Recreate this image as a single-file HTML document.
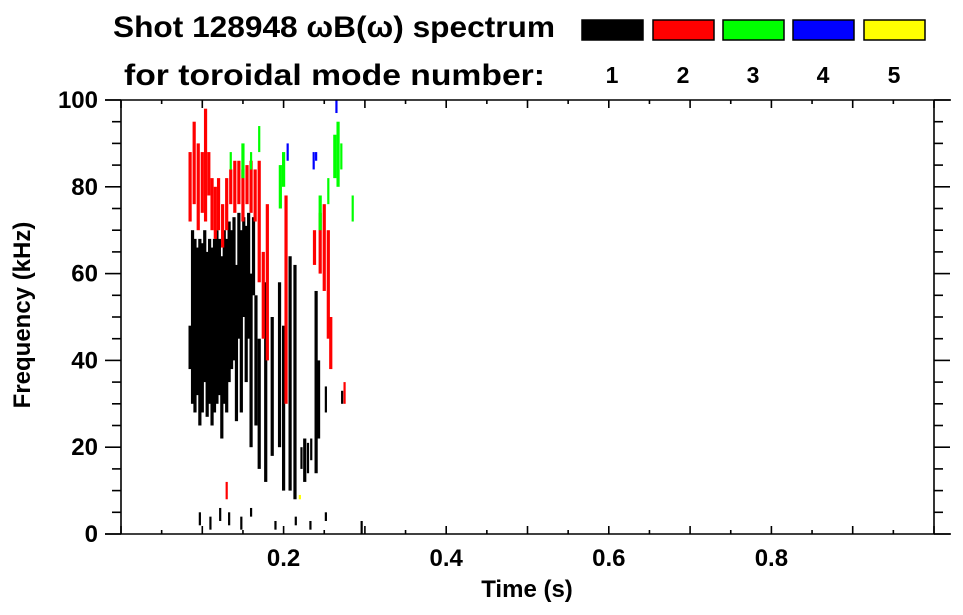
<!DOCTYPE html>
<html><head><meta charset="utf-8"><style>
html,body{margin:0;padding:0;background:#fff}
svg{display:block}
text{font-family:"Liberation Sans",Arial,sans-serif;font-weight:bold;fill:#000}
</style></head><body>
<svg id="chart" width="963" height="615" viewBox="0 0 963 615" xmlns="http://www.w3.org/2000/svg">
<text x="113" y="37" font-size="30" textLength="442" lengthAdjust="spacingAndGlyphs">Shot 128948 ωB(ω) spectrum</text>
<text x="124" y="85" font-size="30" textLength="421" lengthAdjust="spacingAndGlyphs">for toroidal mode number:</text>
<g id="legend"></g>
<g id="marks"></g>
<g id="axes"></g>
<text x="527" y="597" font-size="24" text-anchor="middle">Time (s)</text>
<text x="0" y="0" font-size="24" text-anchor="middle" transform="translate(30,315) rotate(-90)">Frequency (kHz)</text>
</svg>
<script>
// ---- data ----
const modeNumbers = [1, 2, 3, 4, 5];
const modeColors = ["#000000", "#ff0000", "#00ff00", "#0000ff", "#ffff00"];
const xTicks = [0.2, 0.4, 0.6, 0.8];
const xTickLabels = ["0.2", "0.4", "0.6", "0.8"];
const yTicks = [0, 20, 40, 60, 80, 100];
const yTickLabels = ["0", "20", "40", "60", "80", "100"];
// spectral streaks: time (s), low freq (kHz), high freq (kHz), mode number
const segTime = [
0.085,0.088,0.091,0.094,0.097,0.100,0.103,0.106,0.109,0.112,0.115,0.118,0.121,0.124,0.127,0.130,0.133,0.136,0.139,0.142,0.145,0.148,0.151,0.154,0.157,0.160,0.163,0.166,0.170,
0.178,0.186,0.195,0.200,0.208,0.214,0.222,0.226,0.230,0.234,0.240,0.243,0.252,0.272,
0.097,0.110,0.122,0.133,0.148,0.160,0.190,0.215,0.233,0.252,0.296,
0.085,0.090,0.095,0.100,0.104,0.108,0.112,0.116,0.120,0.125,0.130,0.135,0.140,0.145,0.150,0.155,0.160,0.165,0.170,0.175,0.180,0.203,0.238,0.245,0.250,0.255,0.258,0.275,0.130,
0.135,0.150,0.160,0.170,0.196,0.200,0.245,0.255,0.263,0.267,0.271,0.285,
0.205,0.237,0.240,0.265,
0.220];
const segLow = [
38,30,28,32,25,28,35,27,30,25,28,30,32,22,30,28,35,38,40,26,45,28,50,35,45,20,55,25,15,
12,18,20,10,10,8,15,12,14,17,14,22,28,30,
2,1,3,2,1,4,1,2,1,3,0,
72,76,70,74,72,78,70,68,70,66,70,76,74,76,72,76,74,72,58,45,40,30,62,60,56,45,38,30,8,
84,82,84,88,75,80,70,76,82,80,84,72,
86,84,86,97,
8];
const segHigh = [
48,70,68,66,68,67,70,65,68,66,68,70,68,64,70,68,72,70,73,62,74,70,73,71,74,60,73,55,45,
58,50,58,48,64,62,20,22,21,22,56,40,34,33,
5,4,6,5,4,6,3,4,3,5,3,
88,95,90,88,98,88,82,80,82,76,82,84,86,86,84,85,86,84,86,65,76,78,70,74,76,70,50,35,12,
88,90,88,94,85,88,78,82,92,95,90,78,
90,88,88,100,
9];
const segMode = [
1,1,1,1,1,1,1,1,1,1,1,1,1,1,1,1,1,1,1,1,1,1,1,1,1,1,1,1,1,
1,1,1,1,1,1,1,1,1,1,1,1,1,1,
1,1,1,1,1,1,1,1,1,1,1,
2,2,2,2,2,2,2,2,2,2,2,2,2,2,2,2,2,2,2,2,2,2,2,2,2,2,2,2,2,
3,3,3,3,3,3,3,3,3,3,3,3,
4,4,4,4,
5];

// ---- scales ----
const L=121,R=934,T=100,B=534;
const xMin=0,xMax=1,yMin=0,yMax=100;
const xs=v=>L+(v-xMin)/(xMax-xMin)*(R-L);
const ys=v=>B-(v-yMin)/(yMax-yMin)*(B-T);
const NS="http://www.w3.org/2000/svg";
function mk(tag,attrs,parent){const e=document.createElementNS(NS,tag);for(const k in attrs)e.setAttribute(k,attrs[k]);parent.appendChild(e);return e;}

// ---- marks ----
const marks=document.getElementById('marks');
for(let i=0;i<segTime.length;i++){
  const narrow = segHigh[i]-segLow[i] < 8 ? 2.2 : 3.2;
  const r=mk('rect',{x:xs(segTime[i])-narrow/2,y:ys(segHigh[i]),width:narrow,height:Math.max(1.5,ys(segLow[i])-ys(segHigh[i])),fill:modeColors[segMode[i]-1]},marks);
  
  
}

// ---- axes ----
const ax=document.getElementById('axes');
const line=(x1,y1,x2,y2)=>mk('line',{x1,y1,x2,y2,stroke:'#000','stroke-width':1.6},ax);
let l;
l=line(105,T,951,T);  
l=line(105,B,951,B);  
l=line(L,T,L,B);  
l=line(R,T,R,B);  
for(let v=0;v<=1.0001;v+=0.05){
  const major=Math.abs(v*10-Math.round(v*10))<1e-6;
  const x=xs(v), len=major?8:4;
  l=line(x,B,x,B-len);  
  l=line(x,T,x,T+len);  
}
for(let v=0;v<=100;v+=5){
  const major=v%20===0;
  const y=ys(v), len=major?16:9;
  l=line(L,y,L-len,y);  
  l=line(R,y,R+len,y);  
}
xTicks.forEach((v,i)=>{
  const t=mk('text',{x:xs(v),y:566,'font-size':24,'text-anchor':'middle'},ax);
  t.textContent=xTickLabels[i];
  
  
});
yTicks.forEach((v,i)=>{
  const t=mk('text',{x:98,y:ys(v)+8,'font-size':24,'text-anchor':'end'},ax);
  t.textContent=yTickLabels[i];
  
  
});

// ---- legend ----
const lg=document.getElementById('legend');
const boxX=[582,653,723,793,864];
modeNumbers.forEach((m,i)=>{
  const r=mk('rect',{x:boxX[i],y:20,width:61,height:20,fill:modeColors[i],stroke:'#000','stroke-width':1.5},lg);
  
  
  const t=mk('text',{x:boxX[i]+30,y:83,'font-size':23,'text-anchor':'middle'},lg);
  t.textContent=String(m);
  
  
});
</script>
</body></html>
